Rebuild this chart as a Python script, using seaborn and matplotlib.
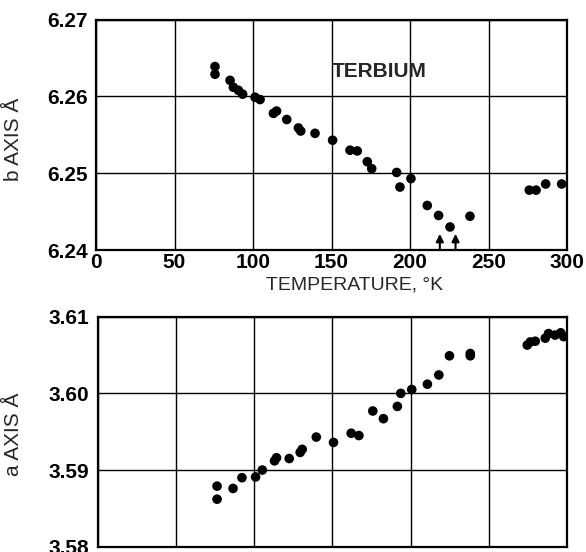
import matplotlib
matplotlib.use("Agg")
import matplotlib.pyplot as plt
import seaborn as sns
import pandas as pd

# ---- data ----
temp_b = [75.8, 75.8, 85.4, 87.5, 90.7, 93.4, 101.3, 104.5, 113, 115, 121.5,
          128.9, 130.4, 139.5, 150.7, 161.8, 166.4, 172.8, 175.6, 191.5, 193.6,
          200.6, 211, 218.2, 225.5, 238.2, 276, 280.3, 286.4, 296.6]
b_axis = [6.2639, 6.2629, 6.2621, 6.2612, 6.2608, 6.2603, 6.2599, 6.2596, 6.2578,
          6.2581, 6.2570, 6.2559, 6.2555, 6.2552, 6.2543, 6.2530, 6.2529, 6.2515,
          6.2506, 6.2501, 6.2482, 6.2493, 6.2458, 6.2445, 6.2430, 6.2444, 6.2478,
          6.2478, 6.2486, 6.2486]

temp_a = [76.4, 76.4, 86.6, 92.3, 101, 105.3, 113.1, 114.4, 122.5, 129.5, 130.8,
          139.8, 150.8, 162.1, 167, 175.9, 182.7, 191.6, 193.8, 200.8, 210.8,
          218.1, 224.9, 238.2, 238.2, 274.6, 276.5, 279.7, 286.1, 288.2, 292.4,
          296, 297.9]
a_axis = [3.5879, 3.5862, 3.5876, 3.5890, 3.5891, 3.5900, 3.5912, 3.5916, 3.5915,
          3.5923, 3.5927, 3.5943, 3.5936, 3.5948, 3.5945, 3.5977, 3.5967, 3.5983,
          3.6000, 3.6005, 3.6012, 3.6024, 3.6049, 3.6052, 3.6049, 3.6063, 3.6067,
          3.6068, 3.6072, 3.6078, 3.6076, 3.6079, 3.6074]

x_ticks = [0, 50, 100, 150, 200, 250, 300]
b_ticks = [6.24, 6.25, 6.26, 6.27]
a_ticks = [3.58, 3.59, 3.60, 3.61]
b_tick_labels = ["6.24", "6.25", "6.26", "6.27"]
a_tick_labels = ["3.58", "3.59", "3.60", "3.61"]
arrow_temps = [219, 229]
arrow_range = [6.2400, 6.2421]
label_pos = (150, 6.2632)

df_b = pd.DataFrame({"T": temp_b, "v": b_axis})
df_a = pd.DataFrame({"T": temp_a, "v": a_axis})

sns.set_theme(style="white")
plt.rcParams["font.family"] = ["Liberation Sans", "DejaVu Sans"]

W, H = 586, 552
fig = plt.figure(figsize=(W / 100, H / 100), dpi=100)
ax1 = fig.add_axes([96 / W, (H - 250) / H, 471 / W, 230.3 / H])
ax2 = fig.add_axes([97.5 / W, (H - 546.7) / H, 469.5 / W, 230 / H])

for ax, df, ticks, labels in [(ax1, df_b, b_ticks, b_tick_labels),
                              (ax2, df_a, a_ticks, a_tick_labels)]:
    sns.scatterplot(data=df, x="T", y="v", ax=ax, color="black", s=48,
                    edgecolor="none", zorder=3, legend=False)
    ax.set_xlim(x_ticks[0], x_ticks[-1])
    ax.set_ylim(ticks[0], ticks[-1])
    ax.set_xticks(x_ticks)
    ax.set_yticks(ticks)
    ax.set_yticklabels(labels, fontsize=15, fontweight="bold")
    ax.grid(True, color="black", linewidth=1.0)
    ax.set_axisbelow(True)
    for sp in ax.spines.values():
        sp.set_color("black")
        sp.set_linewidth(1.6)
    ax.tick_params(axis="both", length=0, colors="black")
    ax.tick_params(axis="y", pad=6)
    ax.set_xlabel("")
    ax.set_ylabel("")

ax1.set_xticklabels([str(t) for t in x_ticks], fontsize=15, fontweight="bold")
ax1.tick_params(axis="x", pad=2)
ax2.set_xticklabels([])

ax1.set_xlabel("TEMPERATURE, °K", fontsize=14)
ax1.xaxis.set_label_coords(0.55, -0.117)
ax1.set_ylabel("b AXIS Å", fontsize=15)
ax1.yaxis.set_label_coords(-0.155, 0.48)
ax2.set_ylabel("a AXIS Å", fontsize=15)
ax2.yaxis.set_label_coords(-0.159, 0.49)

ax1.text(label_pos[0], label_pos[1], "TERBIUM", fontsize=15, fontweight="bold",
         ha="left", va="center")

for t in arrow_temps:
    ax1.annotate("", xy=(t, arrow_range[1]), xytext=(t, arrow_range[0]),
                 arrowprops=dict(arrowstyle="-|>", color="black", lw=1.5,
                                 mutation_scale=11, shrinkA=0, shrinkB=0),
                 zorder=4)

fig.savefig("out.png", dpi=100)
